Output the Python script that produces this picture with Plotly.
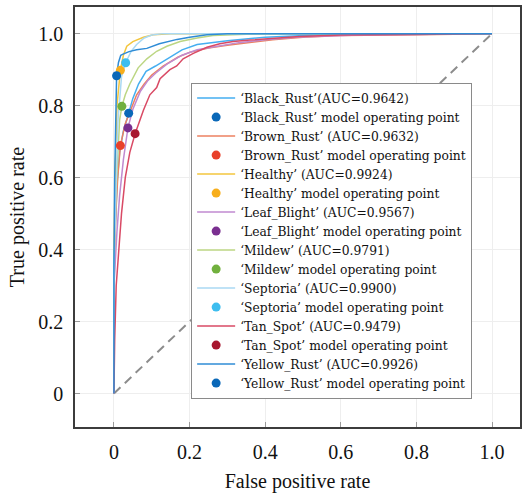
import plotly.graph_objects as go

# ---- data ----
names = ["Black_Rust", "Brown_Rust", "Healthy", "Leaf_Blight", "Mildew", "Septoria", "Tan_Spot", "Yellow_Rust"]
auc_labels = ["‘Black_Rust’(AUC=0.9642)", "‘Brown_Rust’ (AUC=0.9632)", "‘Healthy’ (AUC=0.9924)",
              "‘Leaf_Blight’ (AUC=0.9567)", "‘Mildew’ (AUC=0.9791)", "‘Septoria’ (AUC=0.9900)",
              "‘Tan_Spot’ (AUC=0.9479)", "‘Yellow_Rust’ (AUC=0.9926)"]
op_labels = ["‘Black_Rust’ model operating point", "‘Brown_Rust’ model operating point",
             "‘Healthy’ model operating point", "‘Leaf_Blight’ model operating point",
             "‘Mildew’ model operating point", "‘Septoria’ model operating point",
             "‘Tan_Spot’ model operating point", "‘Yellow_Rust’ model operating point"]

black_rust_fpr = [0, 0, 0.003, 0.008, 0.015, 0.025, 0.039, 0.05, 0.065, 0.085, 0.11, 0.14, 0.18, 0.22, 0.3, 0.4, 0.55, 0.7, 1]
black_rust_tpr = [0, 0.3, 0.45, 0.58, 0.67, 0.73, 0.779, 0.82, 0.86, 0.895, 0.91, 0.93, 0.955, 0.97, 0.98, 0.99, 0.997, 1, 1]

brown_rust_fpr = [0, 0, 0.005, 0.01, 0.017, 0.03, 0.045, 0.06, 0.08, 0.1, 0.13, 0.17, 0.2, 0.25, 0.3, 0.35, 0.42, 0.5, 0.6, 0.8, 1]
brown_rust_tpr = [0, 0.3, 0.5, 0.6, 0.689, 0.75, 0.79, 0.83, 0.86, 0.885, 0.91, 0.935, 0.948, 0.96, 0.968, 0.975, 0.983, 0.99, 0.995, 0.997, 1]

healthy_fpr = [0, 0, 0.003, 0.008, 0.017, 0.025, 0.034, 0.05, 0.078, 0.104, 0.15, 1]
healthy_tpr = [0, 0.4, 0.6, 0.8, 0.898, 0.94, 0.965, 0.978, 0.99, 0.997, 1, 1]

leaf_blight_fpr = [0, 0, 0.008, 0.015, 0.025, 0.037, 0.05, 0.07, 0.09, 0.11, 0.14, 0.18, 0.22, 0.27, 0.33, 0.4, 0.48, 0.55, 0.65, 1]
leaf_blight_tpr = [0, 0.3, 0.45, 0.55, 0.65, 0.738, 0.79, 0.84, 0.87, 0.89, 0.915, 0.94, 0.955, 0.965, 0.975, 0.983, 0.99, 0.993, 0.996, 1]

mildew_fpr = [0, 0, 0.005, 0.01, 0.015, 0.021, 0.03, 0.042, 0.064, 0.087, 0.113, 0.14, 0.175, 0.22, 0.262, 0.35, 0.5, 1]
mildew_tpr = [0, 0.35, 0.55, 0.68, 0.76, 0.798, 0.83, 0.86, 0.905, 0.93, 0.951, 0.965, 0.978, 0.988, 0.995, 0.998, 1, 1]

septoria_fpr = [0, 0, 0.005, 0.01, 0.02, 0.031, 0.045, 0.06, 0.08, 0.1, 0.13, 1]
septoria_tpr = [0, 0.35, 0.55, 0.75, 0.88, 0.919, 0.95, 0.97, 0.988, 0.996, 1, 1]

tan_spot_fpr = [0, 0.002, 0.006, 0.012, 0.02, 0.03, 0.042, 0.056, 0.07, 0.078, 0.095, 0.113, 0.122, 0.148, 0.166, 0.183, 0.21, 0.246, 0.28, 0.315, 0.36, 0.405, 0.49, 0.6, 0.75, 1]
tan_spot_tpr = [0, 0.15, 0.3, 0.4, 0.5, 0.6, 0.67, 0.722, 0.765, 0.787, 0.83, 0.85, 0.875, 0.9, 0.91, 0.93, 0.945, 0.962, 0.972, 0.978, 0.982, 0.986, 0.992, 0.996, 0.998, 1]

yellow_rust_fpr = [0, 0, 0.002, 0.005, 0.007, 0.012, 0.018, 0.024, 0.04, 0.06, 0.087, 0.12, 0.167, 0.2, 0.246, 0.3, 1]
yellow_rust_tpr = [0, 0.35, 0.6, 0.8, 0.883, 0.92, 0.94, 0.943, 0.95, 0.955, 0.959, 0.972, 0.984, 0.99, 0.997, 1, 1]

op_fpr = [0.039, 0.017, 0.017, 0.037, 0.021, 0.031, 0.056, 0.007]
op_tpr = [0.779, 0.689, 0.898, 0.738, 0.798, 0.919, 0.722, 0.883]

chance_fpr = [0, 1]
chance_tpr = [0, 1]

x_ticks = [0, 0.2, 0.4, 0.6, 0.8, 1.0]
x_ticktext = ["0", "0.2", "0.4", "0.6", "0.8", "1.0"]
y_ticks = [0, 0.2, 0.4, 0.6, 0.8, 1.0]
y_ticktext = ["0", "0.2", "0.4", "0.6", "0.8", "1.0"]

curves_fpr = [black_rust_fpr, brown_rust_fpr, healthy_fpr, leaf_blight_fpr, mildew_fpr, septoria_fpr, tan_spot_fpr, yellow_rust_fpr]
curves_tpr = [black_rust_tpr, brown_rust_tpr, healthy_tpr, leaf_blight_tpr, mildew_tpr, septoria_tpr, tan_spot_tpr, yellow_rust_tpr]

line_colors = ["#45aef0", "#ec8060", "#f3c63e", "#c08ad0", "#bcd683", "#aad9f3", "#d94a65", "#2f8cd6"]
point_colors = ["#0a68b8", "#e8402a", "#f7ae1c", "#7a2f90", "#71b03e", "#3dbdef", "#a8172f", "#0a68b8"]

FONT = "Liberation Serif, Times New Roman, serif"
LEGEND_FONT = "DejaVu Serif, serif"

fig = go.Figure()
fig.add_trace(go.Scatter(x=chance_fpr, y=chance_tpr, mode="lines", showlegend=False,
                         line=dict(color="#8c8c8c", width=2, dash="9px,6px"), hoverinfo="skip"))

for i in range(len(names)):
    fig.add_trace(go.Scatter(x=curves_fpr[i], y=curves_tpr[i], mode="lines", name=auc_labels[i],
                             line=dict(color=line_colors[i], width=1.5), legendrank=2 * i + 1))
for i in range(len(names)):
    fig.add_trace(go.Scatter(x=[op_fpr[i]], y=[op_tpr[i]], mode="markers", name=op_labels[i],
                             marker=dict(color=point_colors[i], size=9), legendrank=2 * i + 2))

axis_common = dict(showline=True, mirror=True, linecolor="#3c3c3c", linewidth=1.5,
                   ticks="inside", ticklen=5, tickcolor="#9a9a9a", tickwidth=1,
                   showgrid=True, gridcolor="#eeeeee", gridwidth=1, zeroline=False,
                   tickfont=dict(family=FONT, size=20, color="#111"))

fig.update_xaxes(range=[-0.103, 1.074], tickvals=x_ticks, ticktext=x_ticktext,
                 title=dict(text="False positive rate", font=dict(family=FONT, size=20, color="#111"), standoff=12),
                 ticklabelstandoff=6, **axis_common)
fig.update_yaxes(range=[-0.093, 1.074], tickvals=y_ticks, ticktext=y_ticktext,
                 title=dict(text="True positive rate", font=dict(family=FONT, size=20, color="#111"), standoff=8),
                 ticklabelstandoff=6, **axis_common)

fig.update_layout(
    width=529, height=494,
    margin=dict(l=75, r=9, t=5, b=61),
    plot_bgcolor="white", paper_bgcolor="white",
    legend=dict(x=0.261, y=0.82, xanchor="left", yanchor="top",
                bgcolor="white", bordercolor="#8a8a8a", borderwidth=1,
                font=dict(family=LEGEND_FONT, size=12.3, color="#111"),
                tracegroupgap=0, itemwidth=38),
)

fig.write_html("out.html")
